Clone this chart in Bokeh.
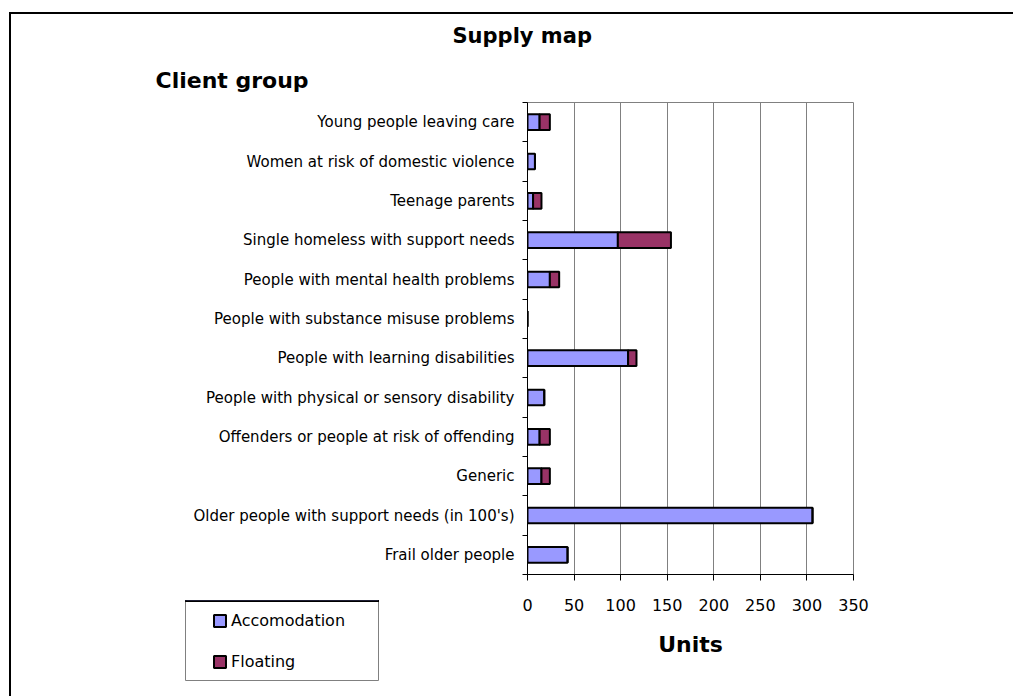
from bokeh.plotting import figure
from bokeh.models import (ColumnDataSource, FixedTicker, Legend, LegendItem, Title,
                          GridBox, Column)
from bokeh.embed import file_html
from bokeh.resources import INLINE

categories = [
    "Young people leaving care",
    "Women at risk of domestic violence",
    "Teenage parents",
    "Single homeless with support needs",
    "People with mental health problems",
    "People with substance misuse problems",
    "People with learning disabilities",
    "People with physical or sensory disability",
    "Offenders or people at risk of offending",
    "Generic",
    "Older people with support needs (in 100's)",
    "Frail older people",
]
accomodation = [13, 8, 6, 97, 24, 0, 108, 18, 13, 15, 306, 43]
floating = [11, 0, 9, 57, 10, 0, 9, 0, 11, 9, 0, 0]
x_ticks = [0, 50, 100, 150, 200, 250, 300, 350]
series_names = ["Accomodation", "Floating"]
series_colors = ["#9999FF", "#993366"]

n = len(categories)
ypos = [n - i - 0.5 for i in range(n)]
totals = [a + f for a, f in zip(accomodation, floating)]

src = ColumnDataSource(dict(y=ypos, cat=categories, acc=accomodation,
                            flt=floating, tot=totals))

FONT = "DejaVu Sans"

# outer chart border (CSS lines on the page element)
styles = {
    "background-image": "linear-gradient(#000,#000), linear-gradient(#000,#000)",
    "background-position": "9px 12px, 9px 12px",
    "background-size": "2px 100%, 100% 2px",
    "background-repeat": "no-repeat",
}

p = figure(width=1013, height=696, output_backend="svg", toolbar_location=None,
           x_range=(0, 350), y_range=(0, n),
           min_border_left=527, min_border_right=160,
           min_border_top=102, min_border_bottom=122, styles=styles)
p.background_fill_color = "white"
p.border_fill_color = None
p.outline_line_color = "#808080"
p.outline_line_width = 1

p.hbar(y="y", left=0, right="acc", height=0.4, source=src,
       fill_color=series_colors[0], line_color="black", line_width=2)
p.hbar(y="y", left="acc", right="tot", height=0.4, source=src,
       fill_color=series_colors[1], line_color="black", line_width=2)

# x axis
xa = p.xaxis[0]
xa.ticker = FixedTicker(ticks=x_ticks)
xa.axis_line_color = "black"
xa.axis_line_width = 1
xa.major_tick_out = 6
xa.major_tick_in = 0
xa.minor_tick_line_color = None
xa.major_label_text_font = FONT
xa.major_label_text_font_size = "16px"
xa.major_label_text_color = "black"
xa.major_label_standoff = 18
xa.axis_label = "Units"
xa.axis_label_text_font = FONT
xa.axis_label_text_font_size = "22px"
xa.axis_label_text_font_style = "bold"
xa.axis_label_text_color = "black"
xa.axis_label_standoff = 18

# y axis
ya = p.yaxis[0]
ya.ticker = FixedTicker(ticks=ypos, minor_ticks=list(range(n + 1)))
ya.major_label_overrides = {yv: c for yv, c in zip(ypos, categories)}
ya.major_tick_out = 0
ya.major_tick_in = 0
ya.minor_tick_out = 5
ya.minor_tick_in = 0
ya.minor_tick_line_color = "black"
ya.axis_line_color = "black"
ya.major_label_text_font = FONT
ya.major_label_text_font_size = "15px"
ya.major_label_text_color = "black"
ya.major_label_standoff = 8

p.xgrid.ticker = FixedTicker(ticks=x_ticks)
p.xgrid.grid_line_color = "#808080"
p.xgrid.grid_line_width = 1
p.ygrid.grid_line_color = None

# titles (first added is closest to the frame)
p.title = None
p.add_layout(Title(text="Client group", align="left", offset=155 - 527,
                   text_font=FONT, text_font_size="22px", text_font_style="bold",
                   text_color="black", standoff=20), "above")
p.add_layout(Title(text="Supply map", align="left", offset=452 - 527,
                   text_font=FONT, text_font_size="21px", text_font_style="bold",
                   text_color="black", standoff=15), "above")

# legend: a small boxed figure laid over the lower-left corner of the chart.
# Its renderers reuse the real data but the ranges keep the bars out of view,
# so only the legend swatches show.
lf = figure(width=194, height=81, output_backend="svg", toolbar_location=None,
            x_range=(0, 1), y_range=(-2, -1),
            min_border_left=0, min_border_right=0,
            min_border_top=0, min_border_bottom=0,
            x_axis_location=None, y_axis_location=None)
lf.title = None
lf.xgrid.grid_line_color = None
lf.ygrid.grid_line_color = None
lf.outline_line_color = "#808080"
lf.outline_line_width = 1
lf.background_fill_color = "white"
lf.border_fill_color = "white"
l1 = lf.hbar(y="y", left=0, right="acc", height=0.4, source=src,
             fill_color=series_colors[0], line_color="black", line_width=2)
l2 = lf.hbar(y="y", left="acc", right="tot", height=0.4, source=src,
             fill_color=series_colors[1], line_color="black", line_width=2)
items = [LegendItem(label=series_names[0], renderers=[l1]),
         LegendItem(label=series_names[1], renderers=[l2])]
legend = Legend(items=items, location=(27, 10), margin=0, padding=0,
                spacing=21, glyph_width=15, glyph_height=15, label_height=20,
                label_standoff=4, label_text_font=FONT,
                label_text_font_size="16px", label_text_color="black",
                border_line_color=None, background_fill_alpha=0)
lf.add_layout(legend, "center")

# separate wrappers keep the two plots' borders independent
main_box = Column(children=[p], width=1013, height=696)
legend_box = Column(children=[lf], width=194, height=81, styles={"z-index": "5"})

grid = GridBox(children=[(main_box, 0, 0, 2, 2), (legend_box, 1, 1)],
               rows=["600px", "96px"], cols=["185px", "828px"])

open("out.html", "w").write(file_html(grid, INLINE))
